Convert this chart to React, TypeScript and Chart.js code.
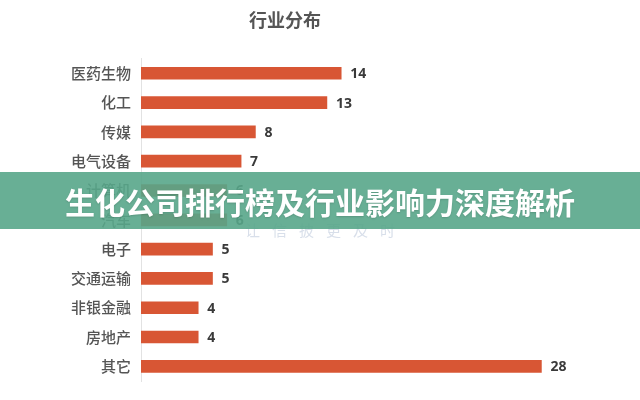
import React, { useEffect, useRef } from "react";
import { Chart, registerables } from "chart.js";

Chart.register(...registerables);

const categories = ["医药生物", "化工", "传媒", "电气设备", "计算机", "汽车", "电子", "交通运输", "非银金融", "房地产", "其它"];
const counts = [14, 13, 8, 7, 6, 6, 5, 5, 4, 4, 28];
const chartTitle = "行业分布";
const bannerText = "生化公司排行榜及行业影响力深度解析";
const watermarkText = "让信披更及时";

const CJK = "'Noto Sans CJK SC', 'Noto Sans', sans-serif";

const valueLabelPlugin = {
  id: "valueLabels",
  afterDatasetsDraw(chart: any) {
    const ctx = chart.ctx;
    const meta = chart.getDatasetMeta(0);
    ctx.save();
    ctx.font = `bold 14px 'Open Sans', ${CJK}`;
    ctx.fillStyle = "#3a3a3a";
    ctx.textAlign = "left";
    ctx.textBaseline = "middle";
    meta.data.forEach((bar: any, i: number) => {
      ctx.fillText(String(chart.data.datasets[0].data[i]), bar.x + 9, bar.y + 1);
    });
    ctx.restore();
  },
};

export default function App() {
  const ref = useRef<HTMLCanvasElement>(null);
  useEffect(() => {
    document.body.style.margin = "0";
    const chart = new Chart(ref.current!, {
      type: "bar",
      data: {
        labels: categories,
        datasets: [
          {
            data: counts,
            backgroundColor: "#D85634",
            barThickness: 12,
          },
        ],
      },
      options: {
        indexAxis: "y",
        animation: false,
        responsive: false,
        layout: { padding: { top: 0, right: 70, bottom: 16, left: 0 } },
        plugins: {
          legend: { display: false },
          tooltip: { enabled: false },
          title: {
            display: true,
            text: chartTitle,
            color: "#555555",
            font: { family: CJK, size: 18, weight: "bold" },
            padding: { top: 9, bottom: 28 },
          },
        },
        scales: {
          x: { display: false, min: 0, max: 30 },
          y: {
            afterFit: (s: any) => {
              s.width = 141;
            },
            grid: { display: false, drawTicks: false },
            border: { display: true, color: "#e2e2e2", width: 1 },
            ticks: {
              color: "#555555",
              padding: 10,
              font: { family: CJK, size: 15, weight: "500" },
            },
          },
        },
      },
      plugins: [valueLabelPlugin],
    });
    return () => chart.destroy();
  }, []);

  return (
    <div style={{ position: "relative", width: 640, height: 400, background: "#fff", overflow: "hidden" }}>
      <canvas ref={ref} width={640} height={400} style={{ position: "absolute", left: 0, top: 0 }} />
      <div
        style={{
          position: "absolute",
          left: 245,
          top: 219,
          fontFamily: CJK,
          fontSize: 15,
          letterSpacing: 12,
          color: "rgba(195,206,222,0.65)",
          whiteSpace: "pre",
        }}
      >
        {watermarkText}
      </div>
      <div
        style={{
          position: "absolute",
          left: 0,
          top: 172,
          width: 640,
          height: 57,
          background: "rgba(88,166,138,0.9)",
          display: "flex",
          alignItems: "center",
          justifyContent: "center",
          fontFamily: CJK,
          fontWeight: "bold",
          fontSize: 30,
          color: "#ffffff",
          textShadow: "0 1px 2px rgba(0,0,0,0.15)",
        }}
      >
        {bannerText}
      </div>
    </div>
  );
}
